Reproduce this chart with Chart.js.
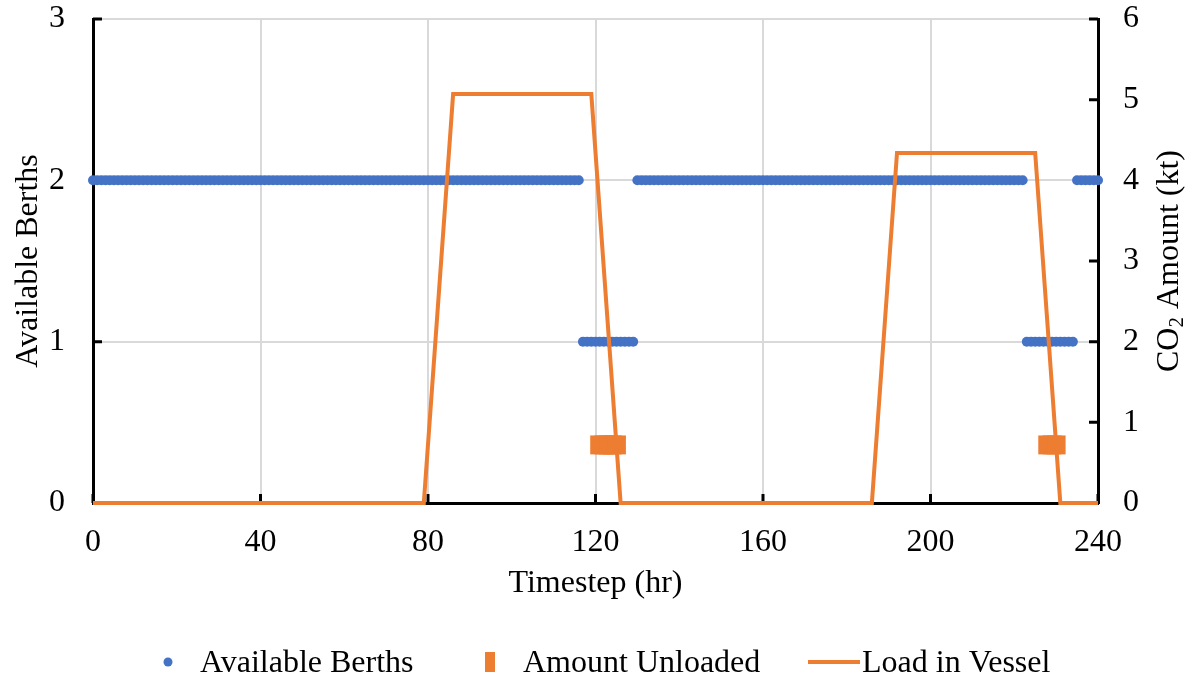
<!DOCTYPE html>
<html>
<head>
<meta charset="utf-8">
<script src="https://cdn.jsdelivr.net/npm/chart.js@4.4.1/dist/chart.umd.min.js"></script>
<style>
  html, body { margin: 0; padding: 0; background: #fff; }
  #wrap { width: 1194px; height: 679px; position: relative; }
</style>
</head>
<body>
<div id="wrap"><canvas id="c" width="1194" height="679"></canvas></div>
<script>
// ---- data ----
const timesteps = [
  0,1,2,3,4,5,6,7,8,9,10,11,12,13,14,15,16,17,18,19,
  20,21,22,23,24,25,26,27,28,29,30,31,32,33,34,35,36,37,38,39,
  40,41,42,43,44,45,46,47,48,49,50,51,52,53,54,55,56,57,58,59,
  60,61,62,63,64,65,66,67,68,69,70,71,72,73,74,75,76,77,78,79,
  80,81,82,83,84,85,86,87,88,89,90,91,92,93,94,95,96,97,98,99,
  100,101,102,103,104,105,106,107,108,109,110,111,112,113,114,115,116,117,118,119,
  120,121,122,123,124,125,126,127,128,129,130,131,132,133,134,135,136,137,138,139,
  140,141,142,143,144,145,146,147,148,149,150,151,152,153,154,155,156,157,158,159,
  160,161,162,163,164,165,166,167,168,169,170,171,172,173,174,175,176,177,178,179,
  180,181,182,183,184,185,186,187,188,189,190,191,192,193,194,195,196,197,198,199,
  200,201,202,203,204,205,206,207,208,209,210,211,212,213,214,215,216,217,218,219,
  220,221,222,223,224,225,226,227,228,229,230,231,232,233,234,235,236,237,238,239,
  240
];
const availableBerths = [
  2,2,2,2,2,2,2,2,2,2,2,2,2,2,2,2,2,2,2,2,
  2,2,2,2,2,2,2,2,2,2,2,2,2,2,2,2,2,2,2,2,
  2,2,2,2,2,2,2,2,2,2,2,2,2,2,2,2,2,2,2,2,
  2,2,2,2,2,2,2,2,2,2,2,2,2,2,2,2,2,2,2,2,
  2,2,2,2,2,2,2,2,2,2,2,2,2,2,2,2,2,2,2,2,
  2,2,2,2,2,2,2,2,2,2,2,2,2,2,2,2,2,1,1,1,
  1,1,1,1,1,1,1,1,1,1,2,2,2,2,2,2,2,2,2,2,
  2,2,2,2,2,2,2,2,2,2,2,2,2,2,2,2,2,2,2,2,
  2,2,2,2,2,2,2,2,2,2,2,2,2,2,2,2,2,2,2,2,
  2,2,2,2,2,2,2,2,2,2,2,2,2,2,2,2,2,2,2,2,
  2,2,2,2,2,2,2,2,2,2,2,2,2,2,2,2,2,2,2,2,
  2,2,2,1,1,1,1,1,1,1,1,1,1,1,1,2,2,2,2,2,
  2
];
const unloadHours  = [121, 122, 123, 124, 125, 228, 229, 230];
const unloadAmount = [0.72, 0.72, 0.72, 0.72, 0.72, 0.72, 0.72, 0.72];
const loadHours  = [0, 79, 86, 119, 126, 186, 192, 225, 231, 240];
const loadAmount = [0, 0, 5.07, 5.07, 0, 0, 4.34, 4.34, 0, 0];
const xTicks  = [0, 40, 80, 120, 160, 200, 240];
const yLeftTicks  = [0, 1, 2, 3];
const yRightTicks = [0, 1, 2, 3, 4, 5, 6];
const seriesNames = ['Available Berths', 'Amount Unloaded', 'Load in Vessel'];

// ---- styling ----
const BLUE = '#4472C4', ORANGE = '#ED7D31';
const FONT = 'Liberation Serif, Times New Roman, serif';
const FS = 32;

const zip = (xs, ys) => xs.map((x, i) => ({ x: x, y: ys[i] }));

const innerTicks = {
  id: 'innerTicks',
  beforeDatasetsDraw(chart) {
    const ctx = chart.ctx, a = chart.chartArea;
    const sx = chart.scales.x, yl = chart.scales.y, yr = chart.scales.y1;
    ctx.save();
    ctx.strokeStyle = '#000';
    ctx.lineWidth = 3;
    ctx.beginPath();
    xTicks.forEach(v => { const p = sx.getPixelForValue(v); ctx.moveTo(p, a.bottom); ctx.lineTo(p, a.bottom - 9); });
    yLeftTicks.forEach(v => { const p = yl.getPixelForValue(v); ctx.moveTo(a.left, p); ctx.lineTo(a.left + 9, p); });
    yRightTicks.forEach(v => { const p = yr.getPixelForValue(v); ctx.moveTo(a.right, p); ctx.lineTo(a.right - 9, p); });
    ctx.stroke();
    ctx.restore();
  },
  afterDraw(chart) {
    const ctx = chart.ctx, a = chart.chartArea;
    ctx.save();
    ctx.fillStyle = '#000';
    // right axis title, reading bottom to top, with subscript
    const cy = (a.top + a.bottom) / 2;
    ctx.translate(1170, cy);
    ctx.rotate(-Math.PI / 2);
    ctx.textBaseline = 'middle';
    const big = FS + 'px ' + FONT, small = Math.round(FS * 0.65) + 'px ' + FONT;
    ctx.font = big;
    const p1 = 'CO', p3 = ' Amount (kt)';
    const w1 = ctx.measureText(p1).width, w3 = ctx.measureText(p3).width;
    ctx.font = small;
    const w2 = ctx.measureText('2').width;
    let x = -(w1 + w2 + w3) / 2;
    ctx.font = big; ctx.textAlign = 'left';
    ctx.fillText(p1, x, 0); x += w1;
    ctx.font = small; ctx.fillText('2', x, 7); x += w2;
    ctx.font = big; ctx.fillText(p3, x, 0);
    ctx.restore();

    // legend
    ctx.save();
    const ly = 662;
    ctx.font = FS + 'px ' + FONT;
    ctx.fillStyle = '#000';
    ctx.textBaseline = 'alphabetic';
    ctx.textAlign = 'left';
    ctx.fillStyle = BLUE;
    ctx.beginPath(); ctx.arc(168, ly, 4.5, 0, Math.PI * 2); ctx.fill();
    ctx.fillStyle = '#000';
    ctx.fillText(seriesNames[0], 200, 672);
    ctx.fillStyle = ORANGE;
    ctx.fillRect(485, 652, 10, 20);
    ctx.fillStyle = '#000';
    ctx.fillText(seriesNames[1], 523, 672);
    ctx.strokeStyle = ORANGE; ctx.lineWidth = 4;
    ctx.beginPath(); ctx.moveTo(808, ly); ctx.lineTo(860, ly); ctx.stroke();
    ctx.fillText(seriesNames[2], 862, 672);
    ctx.restore();
  }
};

const noPadY = s => { s.paddingTop = 0; s.paddingBottom = 0; };

new Chart(document.getElementById('c'), {
  type: 'scatter',
  data: {
    datasets: [
      {
        label: seriesNames[0],
        data: zip(timesteps, availableBerths),
        yAxisID: 'y',
        backgroundColor: BLUE,
        borderColor: BLUE,
        borderWidth: 0,
        pointRadius: 5,
        pointHoverRadius: 5,
        showLine: false,
        clip: false,
        order: 3
      },
      {
        label: seriesNames[1],
        data: zip(unloadHours, unloadAmount),
        yAxisID: 'y1',
        backgroundColor: ORANGE,
        borderColor: ORANGE,
        borderWidth: 0,
        pointStyle: 'rect',
        pointRadius: 13.4,
        pointHoverRadius: 13.4,
        showLine: false,
        order: 2
      },
      {
        label: seriesNames[2],
        data: zip(loadHours, loadAmount),
        yAxisID: 'y1',
        borderColor: ORANGE,
        backgroundColor: ORANGE,
        borderWidth: 4,
        pointRadius: 0,
        showLine: true,
        tension: 0,
        fill: false,
        clip: false,
        order: 1
      }
    ]
  },
  options: {
    responsive: false,
    animation: false,
    devicePixelRatio: 1,
    layout: { padding: { top: 19, bottom: 72, left: 0, right: 0 } },
    plugins: { legend: { display: false }, tooltip: { enabled: false } },
    scales: {
      x: {
        type: 'linear',
        min: 0, max: 240,
        afterBuildTicks: s => { s.ticks = xTicks.map(v => ({ value: v })); },
        ticks: { color: '#000', font: { family: FONT, size: FS }, padding: 20, maxRotation: 0 },
        grid: { color: '#d9d9d9', lineWidth: 2, drawTicks: false },
        border: { color: '#000', width: 3 },
        title: { display: true, text: 'Timestep (hr)', color: '#000', font: { family: FONT, size: FS }, padding: { top: 4, bottom: 4 } },
        afterFit: s => { s.height = 104; s.paddingLeft = 0; s.paddingRight = 0; }
      },
      y: {
        position: 'left',
        min: 0, max: 3,
        afterBuildTicks: s => { s.ticks = yLeftTicks.map(v => ({ value: v })); },
        ticks: { color: '#000', font: { family: FONT, size: FS }, padding: 28 },
        grid: { color: '#d9d9d9', lineWidth: 2, drawTicks: false },
        border: { color: '#000', width: 3 },
        title: { display: true, text: 'Available Berths', color: '#000', font: { family: FONT, size: FS }, padding: { top: 9, bottom: 0 } },
        afterFit: s => { s.width = 93; noPadY(s); }
      },
      y1: {
        position: 'right',
        min: 0, max: 6,
        afterBuildTicks: s => { s.ticks = yRightTicks.map(v => ({ value: v })); },
        ticks: { color: '#000', font: { family: FONT, size: FS }, padding: 25 },
        grid: { display: false, drawTicks: false },
        border: { color: '#000', width: 3 },
        title: { display: false },
        afterFit: s => { s.width = 96; noPadY(s); }
      }
    }
  },
  plugins: [innerTicks]
});
</script>
</body>
</html>
